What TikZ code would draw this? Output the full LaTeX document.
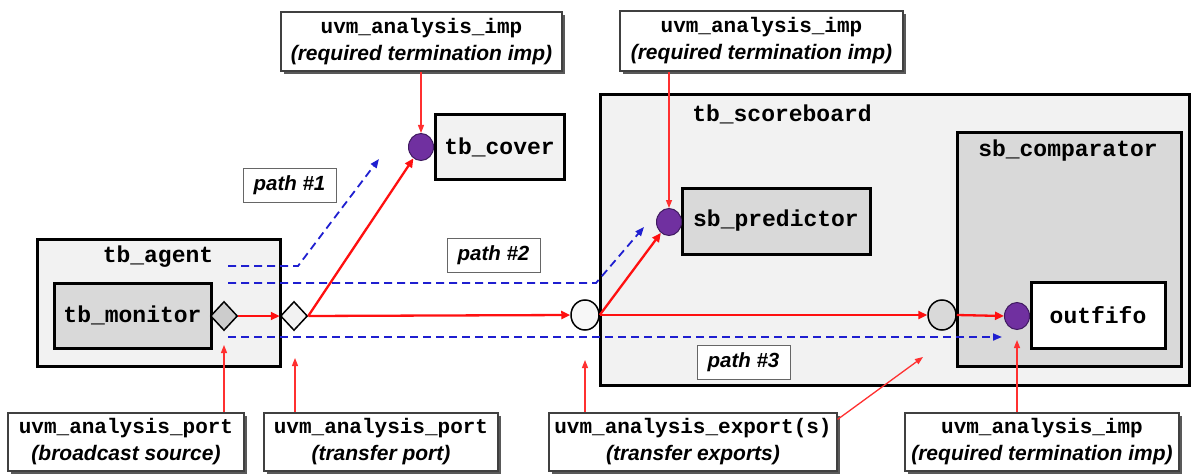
\documentclass[tikz,border=0pt]{standalone}
\usepackage{fontspec}
\setmainfont{Liberation Sans}
\setmonofont{Liberation Mono}
\usetikzlibrary{shapes.geometric,arrows.meta,shadows,calc}
\definecolor{rd}{HTML}{FF1010}
\definecolor{nr}{HTML}{FF3030}
\definecolor{bl}{HTML}{1F1FD0}
\definecolor{pu}{HTML}{7030A0}
\definecolor{pudark}{HTML}{3F1A60}
\definecolor{lg}{HTML}{F2F2F2}
\definecolor{mg}{HTML}{D9D9D9}
\begin{document}
\begin{tikzpicture}[x=1pt,y=-1pt,
  modbox/.style={rectangle, draw=black, line width=3pt, inner sep=0pt},
  mono/.style={font=\fontsize{23}{27}\selectfont\ttfamily\bfseries},
  callout/.style={rectangle, draw=black!75, line width=1.2pt, fill=white, inner sep=0pt, align=center,
    drop shadow={shadow xshift=3pt, shadow yshift=-3pt, fill=black!65, opacity=1},
    font=\fontsize{21}{27}\selectfont\bfseries},
  plabel/.style={rectangle, draw=black!60, line width=1pt, fill=white, minimum width=93pt, minimum height=34pt,
    inner sep=0pt, font=\fontsize{20.5}{24}\selectfont\bfseries\itshape},
  imp/.style={ellipse, fill=pu, draw=pudark, line width=1pt, minimum width=25pt, minimum height=27pt, inner sep=0pt},
  export/.style={ellipse, draw=black, line width=1.5pt, minimum width=28pt, minimum height=30pt, inner sep=0pt},
  port/.style={diamond, draw=black, line width=1.5pt, minimum width=27pt, minimum height=29pt, inner sep=0pt},
  flow/.style={draw=rd, line width=2.3pt, -{Triangle[length=9pt,width=8pt]}},
  pathline/.style={draw=bl, line width=1.8pt, dash pattern=on 8pt off 5pt, -{Triangle[length=9pt,width=7pt]}},
  note/.style={draw=nr, line width=1.3pt, -{Triangle[length=8pt,width=6pt]}}
]
\useasboundingbox (0,0) rectangle (1191,476);
\fill[white] (0,0) rectangle (1191,476);

% containers
\node[modbox, fill=lg, minimum width=243pt, minimum height=127pt] (agent) at (158.5,302.5) {};
\node[mono] (agentT) at (158,257) {tb\_agent};
\node[modbox, fill=mg, minimum width=157pt, minimum height=65pt, mono] (monitor) at (132.5,315.5) {tb\_monitor};

\node[modbox, fill=lg, minimum width=589pt, minimum height=290pt] (sb) at (894.5,240) {};
\node[mono] (sbT) at (782,114) {tb\_scoreboard};
\node[modbox, fill=mg, minimum width=188pt, minimum height=66pt, mono] (pred) at (776,221) {sb\_predictor};
\node[modbox, fill=mg, minimum width=224pt, minimum height=233pt] (comp) at (1069,249.5) {};
\node[mono] (compT) at (1068,151) {sb\_comparator};
\node[modbox, fill=white, minimum width=134pt, minimum height=66pt, mono] (fifo) at (1098,315) {outfifo};

\node[modbox, fill=lg, minimum width=129pt, minimum height=64pt, mono] (cover) at (499.5,147) {tb\_cover};

% path labels
\node[plabel] (p1) at (289.5,185) {path \#1};
\node[plabel] (p2) at (493.5,255.5) {path \#2};
\node[plabel] (p3) at (743.5,362) {path \#3};

% dashed paths
\coordinate (s1) at (228,266); \coordinate (k1) at (298,266); \coordinate (t1) at (379,159);
\coordinate (s2) at (228,283); \coordinate (k2) at (596,283); \coordinate (t2) at (644,227);
\coordinate (s3) at (228,337); \coordinate (t3) at (1002,337);
\draw[pathline] (s1) -- (k1) -- (t1);
\draw[pathline] (s2) -- (k2) -- (t2);
\draw[pathline] (s3) -- (t3);

% ports
\node[port, fill=black!20] (d1) at (224,316) {};
\node[port, fill=lg] (d2) at (294,316) {};
\node[export, fill=black!3] (e1) at (585,315) {};
\node[export, fill=mg] (e2) at (942,315) {};
\node[imp] (covc) at (421,147) {};
\node[imp] (predc) at (669,222) {};
\node[imp] (outc) at (1017,316) {};

% red flows
\draw[flow] (d1.east) -- (d2.west);
\draw[flow] (d2.east) -- (e1.west);
\draw[flow] (d2.east) -- (covc);
\draw[flow] (e1.east) -- (e2.west);
\draw[flow] (e1.east) -- (predc);
\draw[flow] (e2.east) -- (outc.west);

% callouts
\node[callout, minimum width=281pt, minimum height=59pt] (cA) at (421.5,41.5)
  {{\ttfamily uvm\_analysis\_imp}\\{\itshape (required termination imp)}};
\node[callout, minimum width=283pt, minimum height=60pt] (cB) at (761.5,41)
  {{\ttfamily uvm\_analysis\_imp}\\{\itshape (required termination imp)}};
\node[callout, minimum width=236pt, minimum height=58pt] (c1) at (126,442)
  {{\ttfamily uvm\_analysis\_port}\\{\itshape (broadcast source)}};
\node[callout, minimum width=234pt, minimum height=58pt] (c2) at (381,442)
  {{\ttfamily uvm\_analysis\_port}\\{\itshape (transfer port)}};
\node[callout, minimum width=288pt, minimum height=58pt] (c3) at (693,442)
  {{\ttfamily uvm\_analysis\_export(s)}\\{\itshape (transfer exports)}};
\node[callout, minimum width=274pt, minimum height=58pt] (c4) at (1042,442)
  {{\ttfamily uvm\_analysis\_imp}\\{\itshape (required termination imp)}};

% callout pointers
\coordinate (n1) at (224,345);
\coordinate (n2) at (295,358);
\coordinate (n3) at (585,360);
\coordinate (n4) at (923,357);
\coordinate (n5) at (1017,340);
\draw[note] (c1.north -| n1) -- (n1);
\draw[note] (c2.north -| n2) -- (n2);
\draw[note] (c3.north -| n3) -- (n3);
\draw[note] ($(c3.north east)+(0,7)$) -- (n4);
\draw[note] (c4.north -| n5) -- (n5);
\draw[note] (cA.south -| covc) -- (covc.north);
\draw[note] (cB.south -| predc) -- (predc.north);
\end{tikzpicture}
\end{document}
